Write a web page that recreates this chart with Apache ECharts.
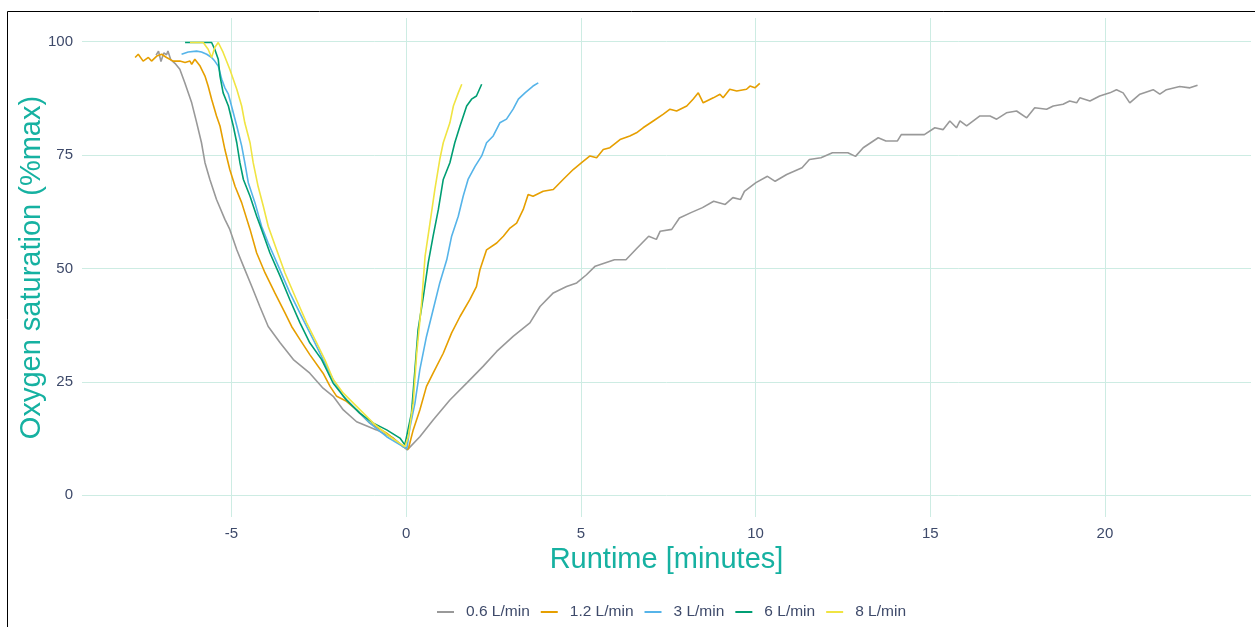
<!DOCTYPE html>
<html>
<head>
<meta charset="utf-8">
<title>Oxygen saturation vs runtime</title>
<script src="https://cdn.jsdelivr.net/npm/echarts@6/dist/echarts.min.js"></script>
<style>
  html, body { margin: 0; padding: 0; background: #fff; }
  #chart { width: 1255px; height: 627px; }
</style>
</head>
<body>
<div id="chart"></div>
<script>
// flow rates (legend)
const flowNames = ['0.6 L/min', '1.2 L/min', '3 L/min', '6 L/min', '8 L/min'];
const flowColors = ['#999999', '#E69F00', '#56B4E9', '#009E73', '#F0E442'];

// axis ticks
const xTicks = [-5, 0, 5, 10, 15, 20];
const yTicks = [0, 25, 50, 75, 100];

// [runtime (min), saturation (%max)]
const flow06 = [
  [-7.16,97.0],[-7.09,97.9],[-7.02,95.6],[-6.94,97.5],[-6.86,97.1],[-6.82,97.9],[-6.74,96.0],
  [-6.62,95.2],[-6.48,93.9],[-6.34,91.0],[-6.14,86.5],[-6.0,82.2],[-5.86,77.7],[-5.76,73.3],
  [-5.62,69.6],[-5.43,65.2],[-5.19,60.8],[-5.05,58.6],[-4.85,54.1],[-4.66,50.5],[-4.42,46.0],
  [-4.19,41.6],[-3.95,37.2],[-3.61,33.6],[-3.23,29.9],[-2.76,26.9],[-2.38,23.6],[-2.09,21.8],
  [-1.80,18.8],[-1.42,16.2],[-0.85,14.4],[-0.37,12.6],[0.03,10.0],
  [0.39,12.9],[0.77,16.6],[1.25,21.0],[1.73,24.7],[2.20,28.4],[2.59,31.7],[3.06,35.0],
  [3.54,38.0],[3.83,41.6],[4.21,44.6],[4.59,46.0],[4.88,46.8],[5.16,48.6],[5.41,50.5],
  [5.96,51.9],[6.29,51.9],[6.61,54.5],[6.94,57.1],[7.16,56.4],[7.27,58.2],[7.60,58.6],
  [7.82,61.1],[8.15,62.3],[8.48,63.4],[8.80,64.8],[9.13,64.1],[9.35,65.6],[9.57,65.2],
  [9.68,67.0],[10.01,68.9],[10.34,70.3],[10.56,69.2],[10.89,70.7],[11.33,72.2],[11.54,74.0],
  [11.87,74.4],[12.20,75.5],[12.64,75.5],[12.86,74.7],[13.08,76.6],[13.51,78.8],[13.73,78.1],
  [14.06,78.1],[14.17,79.5],[14.83,79.5],[15.13,81.0],[15.37,80.6],[15.56,82.5],[15.75,81.0],
  [15.85,82.5],[16.04,81.4],[16.42,83.6],[16.71,83.6],[16.90,82.9],[17.18,84.3],[17.47,84.7],
  [17.76,83.2],[17.99,85.4],[18.33,85.1],[18.52,85.8],[18.80,86.2],[18.99,86.9],[19.19,86.5],
  [19.28,87.6],[19.57,86.9],[19.85,88.0],[20.14,88.7],[20.33,89.4],[20.52,88.7],[20.71,86.5],
  [21.0,88.4],[21.38,89.4],[21.57,88.4],[21.76,89.4],[22.14,90.1],[22.43,89.8],[22.65,90.4]
];
const flow12 = [
  [-7.76,96.5],[-7.67,97.2],[-7.53,95.7],[-7.38,96.5],[-7.29,95.7],[-7.14,96.8],[-7.0,97.2],
  [-6.86,96.5],[-6.67,95.7],[-6.48,95.7],[-6.33,95.4],[-6.19,95.7],[-6.14,95.0],[-6.05,96.1],
  [-5.90,94.6],[-5.76,92.4],[-5.67,90.2],[-5.57,87.3],[-5.43,83.6],[-5.33,81.4],[-5.19,76.2],
  [-5.05,71.8],[-4.90,68.1],[-4.71,64.5],[-4.47,58.6],[-4.28,53.4],[-4.04,49.0],[-3.76,44.6],
  [-3.47,40.2],[-3.28,37.2],[-3.04,34.3],[-2.76,31.0],[-2.38,26.9],[-2.18,24.0],[-1.99,21.8],
  [-1.71,20.7],[-1.42,18.8],[-1.04,15.9],[-0.56,13.7],[-0.09,10.7],[0.06,10.2],
  [0.20,14.4],[0.39,18.8],[0.58,24.0],[0.77,26.9],[1.06,31.3],[1.30,35.8],[1.54,39.4],
  [1.82,43.1],[2.01,46.0],[2.11,49.7],[2.30,54.1],[2.59,55.6],[2.78,57.1],[2.97,58.9],
  [3.16,60.0],[3.35,63.0],[3.49,66.3],[3.63,65.9],[3.92,67.0],[4.21,67.4],[4.49,69.6],
  [4.78,71.8],[5.02,73.3],[5.26,74.8],[5.45,74.4],[5.64,76.2],[5.83,76.6],[6.12,78.4],
  [6.40,79.2],[6.59,79.9],[6.78,81.0],[7.07,82.5],[7.36,84.0],[7.55,85.1],[7.74,84.7],
  [8.03,85.8],[8.21,87.3],[8.36,88.7],[8.50,86.5],[8.79,87.6],[8.98,88.4],[9.07,87.6],
  [9.26,89.5],[9.46,89.1],[9.74,89.5],[9.84,90.2],[9.98,89.8],[10.12,90.8]
];
const flow3 = [
  [-6.43,97.2],[-6.24,97.7],[-6.0,97.9],[-5.86,97.7],[-5.71,97.2],[-5.57,96.5],[-5.48,95.7],
  [-5.38,94.6],[-5.28,91.7],[-5.19,89.8],[-5.09,88.4],[-5.0,85.8],[-4.85,81.4],[-4.71,77.0],
  [-4.62,73.3],[-4.52,68.9],[-4.33,64.5],[-4.14,59.3],[-3.95,55.6],[-3.66,50.5],[-3.33,44.6],
  [-2.95,38.7],[-2.66,34.3],[-2.38,29.9],[-2.09,25.5],[-1.80,21.8],[-1.42,18.8],[-1.04,15.9],
  [-0.56,12.9],[-0.09,10.7],[0.02,10.3],
  [0.11,15.1],[0.25,20.3],[0.39,27.7],[0.58,35.0],[0.77,40.9],[0.96,46.8],[1.16,51.9],
  [1.30,57.1],[1.49,61.5],[1.63,65.9],[1.77,69.6],[1.97,72.5],[2.16,74.8],[2.30,77.7],
  [2.49,79.2],[2.68,82.1],[2.87,82.9],[3.06,85.1],[3.21,87.3],[3.40,88.7],[3.63,90.2],[3.78,90.9]
];
const flow6 = [
  [-6.33,99.8],[-5.57,99.8],[-5.48,98.3],[-5.38,96.1],[-5.33,92.4],[-5.24,88.7],[-5.09,85.8],
  [-4.95,81.4],[-4.85,77.7],[-4.76,73.3],[-4.66,69.6],[-4.47,65.9],[-4.28,61.5],[-4.14,58.6],
  [-3.90,53.4],[-3.61,48.3],[-3.33,43.1],[-3.04,38.0],[-2.76,33.6],[-2.42,29.9],[-2.09,24.7],
  [-1.71,21.0],[-1.33,18.1],[-0.94,15.9],[-0.56,14.4],[-0.18,12.6],[-0.04,11.1],
  [0.01,12.9],[0.15,18.1],[0.25,27.7],[0.34,36.5],[0.49,43.8],[0.63,51.2],[0.77,57.1],
  [0.92,63.0],[1.06,69.6],[1.25,73.3],[1.39,77.7],[1.54,81.4],[1.73,85.8],[1.87,87.3],
  [2.01,88.0],[2.16,90.6]
];
const flow8 = [
  [-6.19,99.8],[-5.81,99.8],[-5.67,98.3],[-5.57,96.5],[-5.48,98.7],[-5.38,99.8],[-5.24,97.6],
  [-5.05,93.9],[-4.85,89.5],[-4.71,85.8],[-4.62,82.1],[-4.47,77.7],[-4.38,73.3],[-4.24,68.1],
  [-4.09,63.7],[-3.95,59.3],[-3.71,54.1],[-3.47,49.0],[-3.14,43.1],[-2.85,38.0],[-2.61,34.3],
  [-2.33,29.9],[-2.09,25.5],[-1.80,22.5],[-1.42,19.6],[-0.94,15.9],[-0.47,12.9],[-0.04,10.7],
  [0.06,12.9],[0.20,20.3],[0.30,31.3],[0.44,42.4],[0.54,52.7],[0.68,60.0],[0.82,67.4],
  [0.96,74.0],[1.06,77.7],[1.25,82.1],[1.35,85.8],[1.49,88.7],[1.59,90.6]
];
const flowData = [flow06, flow12, flow3, flow6, flow8];

const gridColor = '#cdece3';
const labelColor = '#3e4a6a';
const titleColor = '#16b1a1';
const fontName = '"Liberation Sans", Arial, sans-serif';

var myChart = echarts.init(document.getElementById('chart'));

myChart.setOption({
  backgroundColor: '#ffffff',
  animation: false,
  textStyle: { fontFamily: fontName },
  graphic: [{
    type: 'rect',
    shape: { x: 7.5, y: 11.5, width: 1400, height: 800 },
    style: { fill: 'none', stroke: '#000', lineWidth: 1 },
    silent: true
  }],
  grid: { left: 82, right: 4, top: 18, bottom: 110, containLabel: false },
  legend: {
    left: 437,
    top: 604,
    padding: 0,
    icon: 'rect',
    itemWidth: 17,
    itemHeight: 2,
    itemGap: 11,
    textStyle: { color: labelColor, fontSize: 15.5, fontFamily: fontName, padding: [0, 0, 0, 7] },
    data: flowNames
  },
  xAxis: {
    type: 'value',
    min: -9.28,
    max: 24.18,
    name: 'Runtime [minutes]',
    nameLocation: 'middle',
    nameGap: 28,
    nameMoveOverlap: false,
    nameTextStyle: { color: titleColor, fontSize: 29, fontFamily: fontName },
    axisLine: { show: false },
    axisTick: { show: false, customValues: xTicks },
    axisLabel: { color: labelColor, fontSize: 15, margin: 9, fontFamily: fontName, customValues: xTicks },
    splitLine: { show: true, lineStyle: { color: gridColor, width: 1 } }
  },
  yAxis: {
    type: 'value',
    min: -4.8,
    max: 105.2,
    name: 'Oxygen saturation (%max)',
    nameLocation: 'middle',
    nameGap: 36,
    nameMoveOverlap: false,
    nameTextStyle: { color: titleColor, fontSize: 29, fontFamily: fontName },
    axisLine: { show: false },
    axisTick: { show: false, customValues: yTicks },
    axisLabel: { color: labelColor, fontSize: 15, margin: 9, fontFamily: fontName, customValues: yTicks },
    splitLine: { show: true, lineStyle: { color: gridColor, width: 1 } }
  },
  series: flowNames.map(function (name, i) {
    return {
      name: name,
      type: 'line',
      data: flowData[i],
      symbol: 'none',
      color: flowColors[i],
      lineStyle: { width: 1.6, color: flowColors[i] }
    };
  })
});
</script>
</body>
</html>
